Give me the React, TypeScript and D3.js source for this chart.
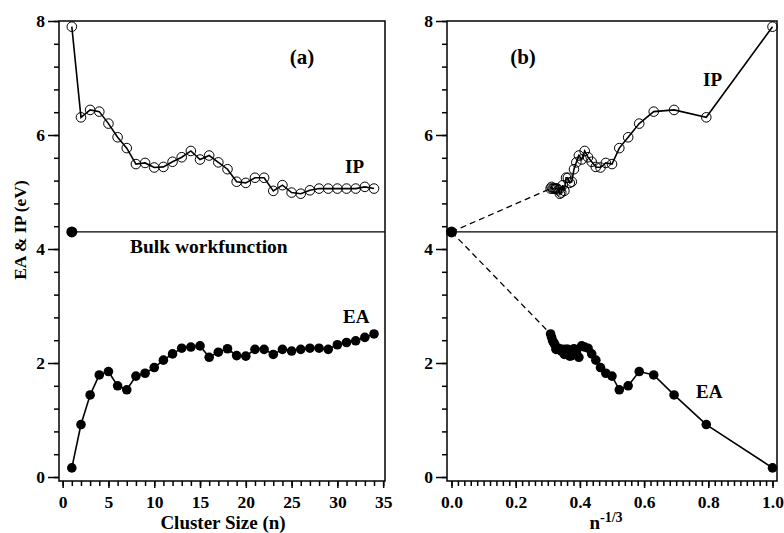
import React, { useEffect, useRef } from 'react';
import * as d3 from 'd3';

// cluster sizes n and the measured values (eV)
const clusterSizes = [1, 2, 3, 4, 5, 6, 7, 8, 9, 10, 11, 12, 13, 14, 15, 16, 17, 18, 19, 20, 21, 22, 23, 24, 25, 26, 27, 28, 29, 30, 31, 32, 33, 34];
const ipValues = [7.9, 6.31, 6.44, 6.41, 6.2, 5.96, 5.77, 5.49, 5.51, 5.43, 5.44, 5.53, 5.61, 5.72, 5.57, 5.64, 5.52, 5.4, 5.18, 5.16, 5.25, 5.25, 5.02, 5.12, 4.99, 4.97, 5.03, 5.06, 5.06, 5.06, 5.06, 5.06, 5.09, 5.06];
const eaValues = [0.16, 0.92, 1.44, 1.79, 1.85, 1.6, 1.53, 1.77, 1.82, 1.92, 2.05, 2.16, 2.26, 2.28, 2.3, 2.1, 2.19, 2.25, 2.13, 2.12, 2.24, 2.24, 2.15, 2.24, 2.21, 2.24, 2.26, 2.26, 2.24, 2.32, 2.36, 2.39, 2.45, 2.51];
const bulkWorkfunction = 4.3;

const yMajorTicks = [0, 2, 4, 6, 8];
const aMajorTicks = [0, 5, 10, 15, 20, 25, 30, 35];
const bMajorTicks = [0, 0.2, 0.4, 0.6, 0.8, 1.0];

const FONT = '"Liberation Serif", "Times New Roman", serif';

function App() {
  const svgRef = useRef<SVGSVGElement>(null);

  useEffect(() => {
    const svg = d3.select(svgRef.current);
    svg.selectAll('*').remove();

    const y = d3.scaleLinear().domain([-0.07, 8]).range([481, 21]);
    const xa = d3.scaleLinear().domain([-0.4, 35.2]).range([59, 385]);
    const xb = d3.scaleLinear().domain([-0.014, 1.014]).range([447, 777]);

    const yMinor = d3.range(0, 8.001, 0.4).map(v => +v.toFixed(2));
    const aMinor = d3.range(0, 35.001, 1);
    const bMinor = d3.range(0, 1.0001, 0.02).map(v => +v.toFixed(3));

    const ipPts = clusterSizes.map((n, i) => ({ n, v: ipValues[i] }));
    const eaPts = clusterSizes.map((n, i) => ({ n, v: eaValues[i] }));

    const drawPanel = (x: d3.ScaleLinear<number, number>, xOf: (n: number) => number,
      majorX: number[], minorX: number[], fmt: (d: number) => string, bulkX: number) => {
      const g = svg.append('g');
      const [x0, x1] = x.range();

      // axes: minor then major ticks
      const yMinorAx = g.append('g').attr('transform', `translate(${x0},0)`)
        .call(d3.axisLeft(y).tickValues(yMinor).tickSize(5).tickFormat(() => ''));
      const yMajorAx = g.append('g').attr('transform', `translate(${x0},0)`)
        .call(d3.axisLeft(y).tickValues(yMajorTicks).tickSize(11).tickPadding(3).tickFormat(d3.format('d')));
      const xMinorAx = g.append('g').attr('transform', `translate(0,${y.range()[0]})`)
        .call(d3.axisBottom(x).tickValues(minorX).tickSize(5).tickFormat(() => ''));
      const xMajorAx = g.append('g').attr('transform', `translate(0,${y.range()[0]})`)
        .call(d3.axisBottom(x).tickValues(majorX).tickSize(7).tickPadding(8).tickFormat(d => fmt(+d)));
      [yMinorAx, yMajorAx, xMinorAx, xMajorAx].forEach(ax => {
        ax.select('.domain').remove();
        ax.selectAll('line').attr('stroke', '#000').attr('stroke-width', 1.5);
        ax.selectAll('text').attr('font-family', FONT).attr('font-weight', 'bold')
          .attr('font-size', 17.5).attr('fill', '#000');
      });

      // frame
      g.append('rect').attr('x', x0).attr('y', y.range()[1])
        .attr('width', x1 - x0).attr('height', y.range()[0] - y.range()[1])
        .attr('fill', 'none').attr('stroke', '#000').attr('stroke-width', 1.5);

      // bulk workfunction line + dot
      g.append('line').attr('x1', x(bulkX)).attr('x2', x1)
        .attr('y1', y(bulkWorkfunction)).attr('y2', y(bulkWorkfunction))
        .attr('stroke', '#000').attr('stroke-width', 1.3);
      g.append('circle').attr('cx', x(bulkX)).attr('cy', y(bulkWorkfunction)).attr('r', 5.5).attr('fill', '#000');

      const line = d3.line<{ n: number; v: number }>().x(d => x(xOf(d.n))).y(d => y(d.v));

      g.append('path').datum(eaPts).attr('d', line).attr('fill', 'none')
        .attr('stroke', '#000').attr('stroke-width', 1.6);
      g.selectAll('circle.ea').data(eaPts).enter().append('circle').attr('class', 'ea')
        .attr('cx', d => x(xOf(d.n))).attr('cy', d => y(d.v)).attr('r', 4.8).attr('fill', '#000');

      g.append('path').datum(ipPts).attr('d', line).attr('fill', 'none')
        .attr('stroke', '#000').attr('stroke-width', 1.6);
      g.selectAll('circle.ip').data(ipPts).enter().append('circle').attr('class', 'ip')
        .attr('cx', d => x(xOf(d.n))).attr('cy', d => y(d.v)).attr('r', 4.8)
        .attr('fill', 'none').attr('stroke', '#000').attr('stroke-width', 1);

      return g;
    };

    const ga = drawPanel(xa, n => n, aMajorTicks, aMinor, d => d3.format('d')(d), 1);
    const gb = drawPanel(xb, n => Math.pow(n, -1 / 3), bMajorTicks, bMinor, d => d3.format('.1f')(d), 0);

    // dashed extrapolation to the bulk value in (b)
    const last = clusterSizes.length - 1;
    const xLast = Math.pow(clusterSizes[last], -1 / 3);
    [ipValues[last], eaValues[last]].forEach(v => {
      gb.append('line').attr('x1', xb(0)).attr('y1', y(bulkWorkfunction))
        .attr('x2', xb(xLast)).attr('y2', y(v))
        .attr('stroke', '#000').attr('stroke-width', 1.3).attr('stroke-dasharray', '6,4');
    });

    const label = (g: any, text: string, x: number, yy: number, anchor = 'start', size = 19) =>
      g.append('text').attr('x', x).attr('y', yy).attr('text-anchor', anchor)
        .attr('font-family', FONT).attr('font-weight', 'bold').attr('font-size', size)
        .attr('fill', '#000').text(text);

    label(ga, '(a)', 302, 64, 'middle', 21);
    label(ga, 'IP', 345, 173);
    label(ga, 'Bulk workfunction', 130, 253, 'start', 19.5);
    label(ga, 'EA', 343, 323);
    label(gb, '(b)', 523, 64, 'middle', 21);
    label(gb, 'IP', 703, 86);
    label(gb, 'EA', 696, 398);

    label(svg, 'Cluster Size (n)', 223, 529, 'middle', 19);
    const nl = label(svg, 'n', 606, 529, 'middle', 19);
    nl.append('tspan').attr('dy', -7).attr('font-size', 14).text('-1/3');

    svg.append('text').attr('transform', 'translate(26,230) rotate(-90)')
      .attr('text-anchor', 'middle').attr('font-family', FONT).attr('font-weight', 'bold')
      .attr('font-size', 17.5).attr('fill', '#000').text('EA & IP (eV)');
  }, []);

  return (
    <div style={{ position: 'absolute', left: 0, top: 0 }}>
      <svg ref={svgRef} width={784} height={533} style={{ display: 'block', background: '#fff' }} />
    </div>
  );
}

export default App;
